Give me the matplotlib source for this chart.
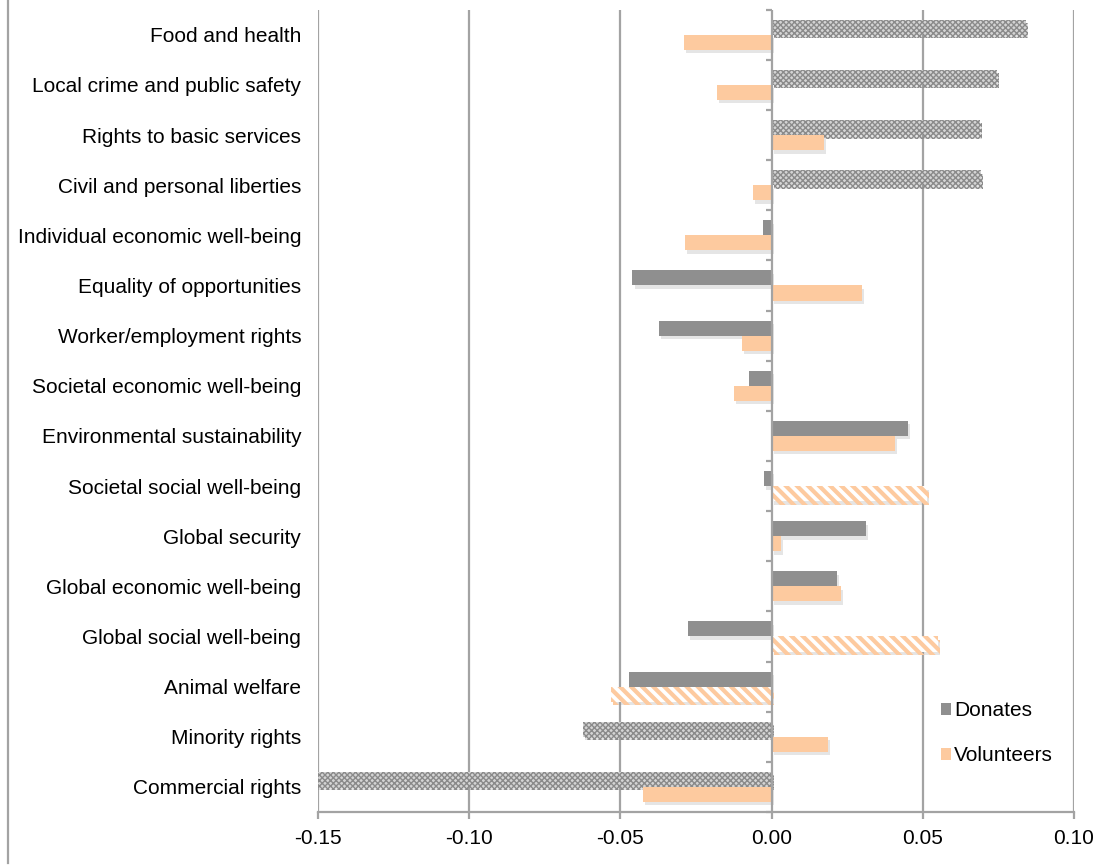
import matplotlib
matplotlib.use("Agg")
import matplotlib.pyplot as plt
import matplotlib.patheffects as pe
from matplotlib.lines import Line2D
from matplotlib.patches import Patch
import numpy as np

plt.rcParams['font.family'] = ['Liberation Sans', 'DejaVu Sans']

categories = ["Food and health", "Local crime and public safety",
              "Rights to basic services", "Civil and personal liberties",
              "Individual economic well-being", "Equality of opportunities",
              "Worker/employment rights", "Societal economic well-being",
              "Environmental sustainability", "Societal social well-being",
              "Global security", "Global economic well-being",
              "Global social well-being", "Animal welfare",
              "Minority rights", "Commercial rights"]

donates = [0.084, 0.0745, 0.069, 0.0693, -0.0028, -0.046, -0.0372, -0.0075,
           0.0451, -0.0025, 0.0312, 0.0216, -0.0277, -0.0471, -0.0623, -0.170]
volunteers = [-0.029, -0.018, 0.0173, -0.0061, -0.0286, 0.030, -0.0098, -0.0124,
              0.0408, 0.0513, 0.003, 0.0228, 0.0549, -0.0531, 0.0186, -0.0424]

# bars drawn with a pattern fill
donates_patterned = {"Food and health", "Local crime and public safety",
                     "Rights to basic services", "Civil and personal liberties",
                     "Minority rights", "Commercial rights"}
volunteers_patterned = {"Societal social well-being", "Global social well-being",
                        "Animal welfare"}

xticks = [-0.15, -0.10, -0.05, 0.00, 0.05, 0.10]

gray = '#8f8f8f'
peach = '#fdca9f'
axis_gray = '#a3a3a3'
fs = 15

fig = plt.figure(figsize=(11.11, 8.66), dpi=100)
ax = fig.add_axes([0.2862, 0.0624, 0.6805, 0.9264])

y = np.arange(len(categories))
h = 0.3
shadow = [pe.SimplePatchShadow(offset=(1.5, -2.5), shadow_rgbFace='#999999', alpha=0.25), pe.Normal()]

for i, cat in enumerate(categories):
    if cat in donates_patterned:
        with plt.rc_context({'hatch.linewidth': 1.0}):
            b = ax.barh(y[i] - h / 2, donates[i], height=h, facecolor='#d4d4d4',
                        edgecolor='#8a8a8a', hatch='xxxxxx', linewidth=0, zorder=3)
    else:
        b = ax.barh(y[i] - h / 2, donates[i], height=h, color=gray, linewidth=0, zorder=3)
    for p in b:
        p.set_path_effects(shadow)
    if cat in volunteers_patterned:
        with plt.rc_context({'hatch.linewidth': 3.0}):
            b = ax.barh(y[i] + h / 2, volunteers[i], height=h, facecolor='white',
                        edgecolor=peach, hatch='\\\\\\', linewidth=0, zorder=3)
    else:
        b = ax.barh(y[i] + h / 2, volunteers[i], height=h, color=peach, linewidth=0, zorder=3)
    for p in b:
        p.set_path_effects(shadow)

ax.set_xlim(-0.15, 0.10)
ax.set_ylim(len(categories) - 0.5, -0.5)

# vertical grid lines and the zero axis with its small ticks
for xv in xticks:
    ax.axvline(xv, color=axis_gray, lw=1.6, zorder=1 if xv != 0 else 4)
ax.hlines(np.arange(len(categories) + 1) - 0.5, -0.0018, 0, color=axis_gray, lw=1.6, zorder=4,
          clip_on=False)

ax.set_yticks(y)
ax.set_yticklabels(categories, fontsize=fs)
ax.tick_params(axis='y', length=0, pad=12)
ax.set_xticks(xticks)
ax.set_xticklabels(['%.2f' % v for v in xticks], fontsize=fs)
ax.tick_params(axis='x', length=5, width=1.6, color=axis_gray, pad=7)

for s in ['top', 'left', 'right']:
    ax.spines[s].set_visible(False)
ax.spines['bottom'].set_color(axis_gray)
ax.spines['bottom'].set_linewidth(1.6)

handles = [Patch(facecolor=gray, label='Donates'), Patch(facecolor=peach, label='Volunteers')]
ax.legend(handles=handles, loc='lower right', bbox_to_anchor=(0.997, 0.035), frameon=False,
          fontsize=fs, handlelength=0.5, handleheight=0.5, handletextpad=0.15,
          labelspacing=1.25)

# outer frame line on the left edge
fig.add_artist(Line2D([0.0072, 0.0072], [0.004, 1.0], color=axis_gray, lw=1.6))

fig.savefig('out.png', dpi=100)
